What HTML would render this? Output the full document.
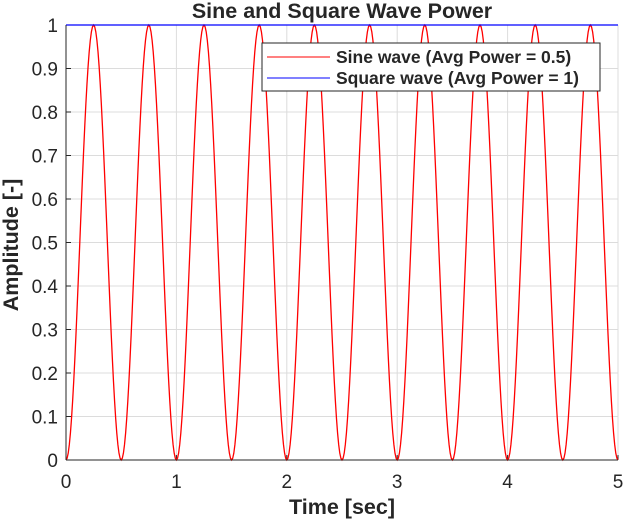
<!DOCTYPE html>
<html><head><meta charset="utf-8"><style>
body{margin:0;background:#fff;}
svg text{font-family:"Liberation Sans",sans-serif;fill:#262626;}
</style></head><body>
<svg width="624" height="521" viewBox="0 0 624 521">
<rect width="624" height="521" fill="#fff"/>
<g id="grid"></g>
<g id="ticks"></g>
<polyline id="sine" fill="none" stroke="#ff0000" stroke-width="1.3"/>
<polyline id="square" fill="none" stroke="#0000ff" stroke-width="1.2"/>
<line x1="66" y1="25" x2="66" y2="460" stroke="#262626"/>
<line x1="66" y1="460" x2="618" y2="460" stroke="#262626"/>
<text x="342" y="18" text-anchor="middle" font-size="21.5" font-weight="bold" fill="#000">Sine and Square Wave Power</text>
<text x="342" y="514" text-anchor="middle" font-size="21.5" font-weight="bold">Time [sec]</text>
<text transform="translate(18,245) rotate(-90)" text-anchor="middle" font-size="21.5" font-weight="bold">Amplitude [-]</text>
<g>
<rect x="262" y="43" width="338" height="48" fill="#fff" stroke="#262626" stroke-width="1"/>
<line x1="267" y1="57" x2="330" y2="57" stroke="#ff0000"/>
<text x="336" y="63" font-size="17.5" font-weight="bold" fill="#000">Sine wave (Avg Power = 0.5)</text>
<line x1="267" y1="78" x2="330" y2="78" stroke="#0000ff"/>
<text x="336" y="84" font-size="17.5" font-weight="bold" fill="#000">Square wave (Avg Power = 1)</text>
</g>
</svg>
<script>
const xTicks=[0,1,2,3,4,5];
const yTicks=[0,0.1,0.2,0.3,0.4,0.5,0.6,0.7,0.8,0.9,1];
const sineFreq=[1];
const sineAmp=[1];
const squareLevel=[1];
const tStart=0,tEnd=5,tStep=0.01;
const X0=66,X1=618,Y0=460,Y1=25;
const sx=t=>X0+(t-0)/(5-0)*(X1-X0);
const sy=v=>Y0-(v-0)/(1-0)*(Y0-Y1);
const NS="http://www.w3.org/2000/svg";
const grid=document.getElementById('grid'),ticks=document.getElementById('ticks');
function mk(tag,attrs,parent){const e=document.createElementNS(NS,tag);for(const k in attrs)e.setAttribute(k,attrs[k]);parent.appendChild(e);return e;}
xTicks.forEach(t=>{
 const g=mk('line',{x1:sx(t),x2:sx(t),y1:Y1,y2:Y0,stroke:'#dcdcdc'},grid);
 
 
 const tk=mk('line',{x1:sx(t),x2:sx(t),y1:Y0,y2:Y0-5,stroke:'#262626'},ticks);
 
 
 const l=mk('text',{x:sx(t),y:488,'text-anchor':'middle','font-size':'19'},ticks);
 l.textContent=t;
 
 
});
yTicks.forEach(v=>{
 const g=mk('line',{x1:X0,x2:X1,y1:sy(v),y2:sy(v),stroke:'#dcdcdc'},grid);
 
 
 const tk=mk('line',{x1:X0,x2:X0+5,y1:sy(v),y2:sy(v),stroke:'#262626'},ticks);
 
 
 const l=mk('text',{x:58,y:sy(v)+7,'text-anchor':'end','font-size':'19'},ticks);
 l.textContent=v;
 
 
});
let pts=[];
for(let i=0;i<=Math.round((tEnd-tStart)/tStep);i++){
 const t=tStart+i*tStep;
 const s=sineAmp[0]*Math.sin(2*Math.PI*sineFreq[0]*t);
 pts.push(sx(t).toFixed(2)+','+sy(s*s).toFixed(2));
}
document.getElementById('sine').setAttribute('points',pts.join(' '));
document.getElementById('square').setAttribute('points',sx(tStart)+','+sy(squareLevel[0])+' '+sx(tEnd)+','+sy(squareLevel[0]));
</script>
</body></html>
